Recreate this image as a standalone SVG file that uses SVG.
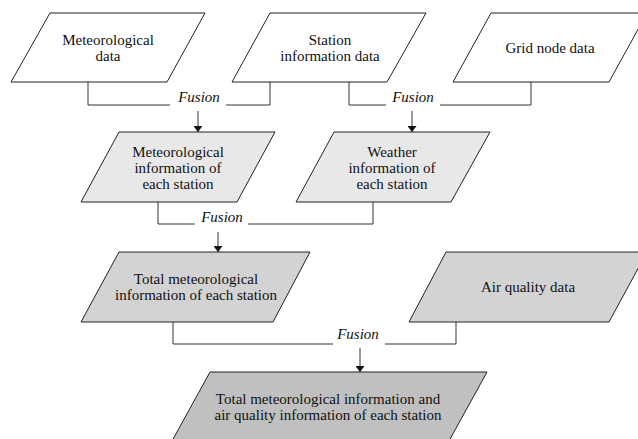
<svg xmlns="http://www.w3.org/2000/svg" width="638" height="439" viewBox="0 0 638 439">
<style>
.n{stroke:#222;stroke-width:1;}
.w{fill:#fff;}
.l1{fill:#e8e8e8;}
.l2{fill:#d3d3d3;}
.l3{fill:#c0c0c0;}
text{font-family:"Liberation Serif","Times New Roman",serif;font-size:15px;fill:#111;text-anchor:middle;}
.f{font-style:italic;}
.c{fill:none;stroke:#333;stroke-width:1;}
</style>
<defs>
<marker id="ah" viewBox="0 0 10 10" refX="10" refY="5" markerWidth="6" markerHeight="9" markerUnits="userSpaceOnUse" orient="auto-start-reverse" preserveAspectRatio="none">
<path d="M0,0 L10,5 L0,10 z" fill="#111"/>
</marker>
</defs>
<rect width="638" height="439" fill="#fff"/>
<g id="connectors">
<polyline class="c" points="88,82 88,105 170,105"/>
<polyline class="c" points="226,105 270,105 270,82"/>
<line class="c" x1="198" y1="111" x2="198" y2="132" marker-end="url(#ah)"/>
<text class="f" x="199" y="102">Fusion</text>
<polyline class="c" points="349,82 349,105 386,105"/>
<polyline class="c" points="440,105 531,105 531,82"/>
<line class="c" x1="412" y1="111" x2="412" y2="132" marker-end="url(#ah)"/>
<text class="f" x="413" y="102">Fusion</text>
<polyline class="c" points="158,202 158,224 195,224"/>
<polyline class="c" points="248,224 373,224 373,202"/>
<line class="c" x1="218" y1="232" x2="218" y2="252" marker-end="url(#ah)"/>
<text class="f" x="222" y="222">Fusion</text>
<polyline class="c" points="173,322 173,344 333,344"/>
<polyline class="c" points="385,344 456,344 456,322"/>
<line class="c" x1="360" y1="348" x2="360" y2="372" marker-end="url(#ah)"/>
<text class="f" x="358" y="339">Fusion</text>
</g>
<g id="n1">
<polygon class="n w" points="50,13 205,13 167,82 11,82"/>
<text x="108" y="45">Meteorological</text>
<text x="108" y="61">data</text>
</g>
<g id="n2">
<polygon class="n w" points="270,13 426,13 387,82 232,82"/>
<text x="330" y="45">Station</text>
<text x="330" y="61">information data</text>
</g>
<g id="n3">
<polygon class="n w" points="491,13 647,13 609,82 453,82"/>
<text x="550" y="53">Grid node data</text>
</g>
<g id="n4">
<polygon class="n l1" points="119,132 275,132 237,202 81,202"/>
<text x="178" y="157">Meteorological</text>
<text x="178" y="173">information of</text>
<text x="178" y="189">each station</text>
</g>
<g id="n5">
<polygon class="n l1" points="334,132 490,132 451,202 296,202"/>
<text x="392" y="157">Weather</text>
<text x="392" y="173">information of</text>
<text x="392" y="189">each station</text>
</g>
<g id="n6">
<polygon class="n l2" points="119,252 310,252 273,322 81,322"/>
<text x="196" y="284">Total meteorological</text>
<text x="196" y="300">information of each station</text>
</g>
<g id="n7">
<polygon class="n l2" points="446,252 647,252 609,322 409,322"/>
<text x="528" y="292">Air quality data</text>
</g>
<g id="n8">
<polygon class="n l3" points="210,372 487,372 449,441 172,441"/>
<text x="328" y="404">Total meteorological information and</text>
<text x="328" y="420">air quality information of each station</text>
</g>
</svg>
